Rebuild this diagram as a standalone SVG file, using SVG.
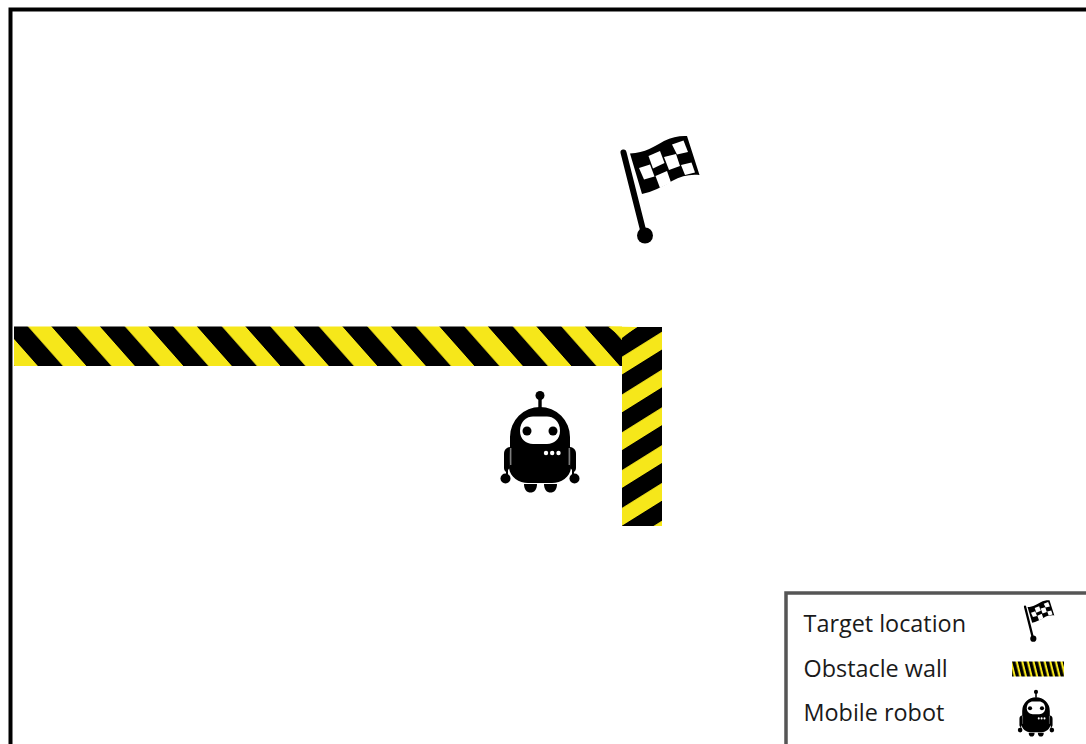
<svg xmlns="http://www.w3.org/2000/svg" xmlns:xlink="http://www.w3.org/1999/xlink" width="1086" height="744" viewBox="0 0 1086 744">
<style>
.lbl{font-family:"Open Sans","Noto Sans",sans-serif;font-size:23.4px;fill:#1a1a1a}
.k{fill:#000}.w{fill:#fff}.y{fill:#f6e71a}
</style>
<defs>
<pattern id="hz" patternUnits="userSpaceOnUse" width="48.5" height="40" patternTransform="translate(2.5 326) skewX(41.500)">
<rect width="48.500" height="40" class="y"/><rect width="25" height="40" class="k"/>
</pattern>
<pattern id="vt" patternUnits="userSpaceOnUse" width="40" height="37.800" patternTransform="translate(622 374.500) skewY(-32)">
<rect width="40" height="37.800" class="y"/><rect width="40" height="20" class="k"/>
</pattern>
<pattern id="mini" patternUnits="userSpaceOnUse" width="5.600" height="16" patternTransform="translate(1012 661) skewX(14)">
<rect width="5.600" height="16" class="y"/><rect width="3.400" height="16" class="k"/>
</pattern>
<g id="flag">
<path d="M623.500 152.500L644.300 235" stroke="#000" stroke-width="6" stroke-linecap="round" fill="none"/>
<circle class="k" cx="645" cy="235.500" r="8"/>
<path class="k" d="M630 153.500C645 153 655 146 664 141C672 137 680 135.500 687 136L699.500 175C690 174 681 176 672 181C662 187 652 192 642 194Z"/>
<g class="w">
<polygon points="648.500,156 660,151 664.500,163 653,168.500"/>
<polygon points="672,144.500 683.500,140.500 688,152 677,154.500"/>
<polygon points="639,168 650,164.500 654.500,176.500 644,179.500"/>
<polygon points="664,157 676,154 680,166 669,170"/>
<polygon points="681,165 691.500,162.500 695,172.500 685,175"/>
<polygon points="655.500,176 667,171 671,182.500 660,188"/>
</g>
</g>
<g id="robot">
<circle class="k" cx="540" cy="395.500" r="4.500"/>
<rect class="k" x="538.300" y="398" width="3.400" height="10"/>
<path class="k" d="M510 437A30 30 0 0 1 570 437V448L571 468C570 477 561 483 552 483H528C519 483 510 477 509 468L510 448Z"/>
<path class="k" d="M510 447C506 447.500 504 450 504 454V468C504 470 505 471 506 472V476H508V470L509.500 468Z"/>
<path class="k" d="M570 447C574 447.500 576 450 576 454V468C576 470 575 471 574 472V476H572V470L570.500 468Z"/>
<path d="M510.800 448V465M569.200 448V465" stroke="#fff" stroke-width=".7" fill="none"/>
<circle class="k" cx="505.500" cy="478.500" r="5"/>
<circle class="k" cx="574.500" cy="478.500" r="5"/>
<path class="k" d="M524 484H537C537 490 534 492.500 530.500 492.500C527 492.500 524 490 524 484Z"/>
<path class="k" d="M544 484H557C557 490 554 492.500 550.500 492.500C547 492.500 544 490 544 484Z"/>
<path class="w" d="M520 431C520 421 527 416.500 533 416.500H547C553 416.500 560 421 560 431C560 439 554 444 547 444H533C526 444 520 439 520 431Z"/>
<circle class="k" cx="527" cy="431" r="4.500"/>
<circle class="k" cx="553" cy="431" r="4.500"/>
<circle class="w" cx="546" cy="453" r="2.200"/>
<circle class="w" cx="552.200" cy="453" r="2.200"/>
<circle class="w" cx="558.500" cy="453" r="2.200"/>
</g>
</defs>
<rect width="1086" height="744" fill="#fff"/>
<g id="frame"><path d="M10.500 744V9.500H1086" fill="none" stroke="#000" stroke-width="4"/></g>
<g id="wall-horizontal">
<rect x="14" y="326.500" width="608" height="39.500" fill="url(#hz)"/>
</g>
<g id="wall-vertical">
<rect x="622" y="327" width="40" height="199" fill="url(#vt)"/>
<polygon class="y" points="608,326.500 636.500,327 622,338"/>
</g>
<g id="target"><use href="#flag" xlink:href="#flag"/></g>
<g id="mobile-robot"><use href="#robot" xlink:href="#robot"/></g>
<g id="legend">
<path d="M786 744V593H1086" fill="none" stroke="#555" stroke-width="3.500"/>
<text class="lbl" x="803.500" y="632">Target location</text>
<text class="lbl" x="803.500" y="676.500">Obstacle wall</text>
<text class="lbl" x="803.500" y="721">Mobile robot</text>
<use href="#flag" xlink:href="#flag" transform="translate(785 548) scale(.385)"/>
<rect x="1012" y="661.500" width="52" height="15" fill="url(#mini)"/>
<use href="#robot" xlink:href="#robot" transform="translate(787.600 510) scale(.46)"/>
</g>
</svg>
